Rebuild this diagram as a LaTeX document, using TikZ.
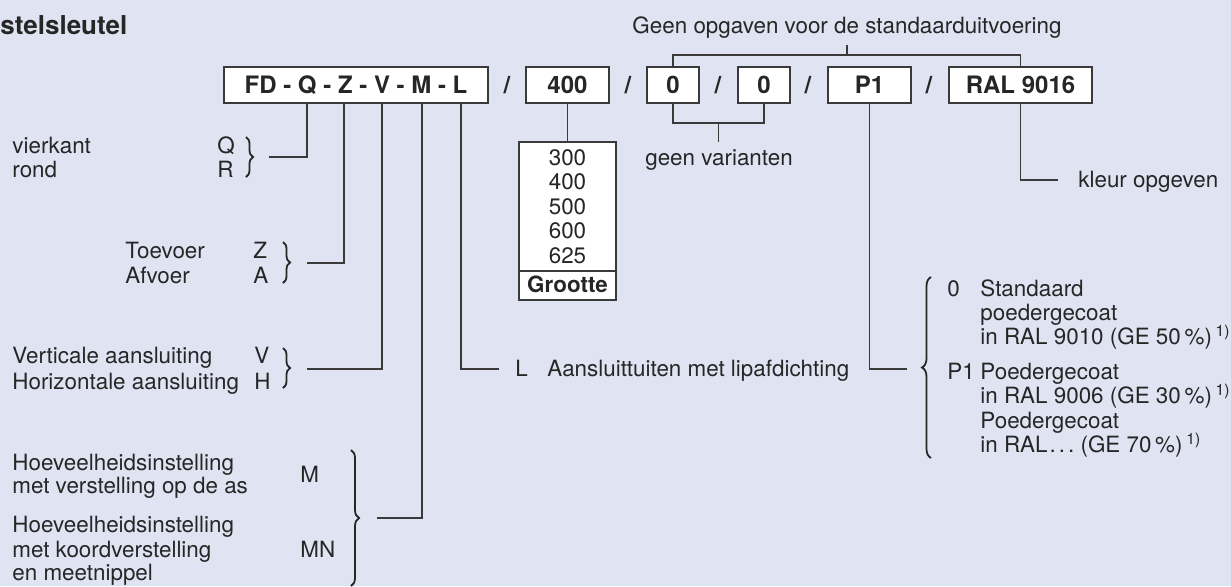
\documentclass[tikz,border=0pt]{standalone}
\usepackage{fontspec}
\setmainfont{TeX Gyre Heros}
\usetikzlibrary{positioning,decorations.pathreplacing}
\definecolor{bgblue}{HTML}{E0E4F2}
\definecolor{ink}{HTML}{262626}
\definecolor{wire}{HTML}{3A3A3A}
\tikzset{
  keybox/.style={draw=wire, fill=white, line width=0.7pt, minimum height=18pt, inner sep=0pt, text=ink, font=\fontsize{12}{14}\selectfont\bfseries},
  slash/.style={inner sep=0pt, text=ink, font=\fontsize{12}{14}\selectfont\bfseries},
  lbl/.style={anchor=base west, inner sep=0pt, text=ink, font=\fontsize{11.2}{13}\selectfont},
  wirel/.style={draw=wire, line width=0.6pt},
  curly/.style={draw=ink, line width=0.9pt, decorate, decoration={brace, amplitude=#1}},
  curly/.default=3pt,
}

\begin{document}
\begin{tikzpicture}[x=0.5pt, y=-0.5pt]
  \fill[bgblue] (0,0) rectangle (1231,586);
  \useasboundingbox (0,0) rectangle (1231,586);

  \node[lbl, font=\fontsize{13}{15}\selectfont\bfseries] (title) at (0,34) {stelsleutel};

  % code boxes
  \node[keybox, minimum width=132pt] (kfd) at (356,85) {FD - Q - Z - V - M - L};
  \node[keybox, minimum width=41.5pt] (ksize) at (567.5,85) {400};
  \node[keybox, minimum width=26pt] (kvar1) at (673,85) {0};
  \node[keybox, minimum width=26pt] (kvar2) at (764,85) {0};
  \node[keybox, minimum width=41.5pt] (kcoat) at (869.5,85) {P1};
  \node[keybox, minimum width=71.5pt] (kral) at (1020.5,85) {RAL 9016};
  \foreach \x [count=\i] in {507,628,718,808,929}
    \node[slash] (sl\i) at (\x,85) {/};

  % standard version bracket
  \node[lbl, anchor=base] (std) at (847,33) {Geen opgaven voor de standaarduitvoering};
  \coordinate (stdmid) at (847,55);
  \coordinate (stdtop) at (847,45);
  \draw[wirel] (kvar1.north) |- (stdmid) -| (kral.north);
  \draw[wirel] (stdmid) -- (stdtop);

  % variants
  \coordinate (varmid) at (718.5,123);
  \coordinate (varend) at (718.5,142);
  \draw[wirel] (kvar1.south) |- (varmid) -| (kvar2.south);
  \draw[wirel] (varmid) -- (varend);
  \node[lbl, anchor=base] (novar) at (719,165) {geen varianten};

  % sizes
  \node[draw=wire, fill=white, line width=0.7pt, minimum width=48.5pt, minimum height=79pt, inner sep=0pt] (sizes) at (567.5,221) {};
  \draw[wirel] (ksize.south) -- (sizes.north);
  \foreach \v [count=\i] in {300,400,500,600,625}
    \node[lbl, anchor=base] (s\v) at (567.5,140.5+24.5*\i) {\v};
  \draw[draw=wire, line width=1.4pt] (519,271) -- (616,271);
  \node[lbl, anchor=base, font=\fontsize{11.2}{13}\selectfont\bfseries] (grootte) at (567.5,292) {Grootte};

  % drops from the type code
  \foreach \n/\x in {Q/307, Z/344, V/382, M/422, L/461}
    \coordinate (d\n) at (\x,103);
  \coordinate (jQ) at (269,157);
  \coordinate (jZ) at (307,263);
  \coordinate (jV) at (307,369);
  \coordinate (jM) at (377,518);
  \coordinate (jL) at (499,369);
  \coordinate (jP) at (907,369);
  \coordinate (jR) at (1058,180);
  \draw[wirel] (dQ) |- (jQ);
  \draw[wirel] (dZ) |- (jZ);
  \draw[wirel] (dV) |- (jV);
  \draw[wirel] (dM) |- (jM);
  \draw[wirel] (dL) |- (jL);
  \draw[wirel] (kcoat.south) |- (jP);
  \draw[wirel] (kral.south) |- (jR);

  % braces
  \draw[curly=3.5pt] (246,137) -- (246,177);
  \draw[curly=3.5pt] (283,242) -- (283,283);
  \draw[curly=3.5pt] (283,348) -- (283,388);
  \draw[curly=4pt] (351,450) -- (351,586);
  \draw[curly=4.5pt] (931,458) -- (931,277);

  % shape
  \node[lbl] (vierkant) at (12,153) {vierkant};
  \node[lbl] (rond) at (12,177) {rond};
  \node[lbl] (optQ) at (217,153) {Q};
  \node[lbl] (optR) at (217,177) {R};

  % direction
  \node[lbl] (toevoer) at (125,258) {Toevoer};
  \node[lbl] (afvoer) at (125,283) {Afvoer};
  \node[lbl] (optZ) at (253,258) {Z};
  \node[lbl] (optA) at (253,283) {A};

  % connection
  \node[lbl] (vert) at (12,363) {Verticale aansluiting};
  \node[lbl] (hor) at (12,389) {Horizontale aansluiting};
  \node[lbl] (optV) at (254,363) {V};
  \node[lbl] (optH) at (254,389) {H};

  % volume setting
  \node[lbl] (m1) at (12,470) {Hoeveelheidsinstelling};
  \node[lbl] (m2) at (12,493) {met verstelling op de as};
  \node[lbl] (mn1) at (12,532) {Hoeveelheidsinstelling};
  \node[lbl] (mn2) at (12,557) {met koordverstelling};
  \node[lbl] (mn3) at (12,580) {en meetnippel};
  \node[lbl] (optM) at (300,482) {M};
  \node[lbl] (optMN) at (300,557) {MN};

  % lip seal
  \node[lbl] (optL) at (515,376) {L};
  \node[lbl] (lip) at (547,376) {Aansluittuiten met lipafdichting};

  % coating
  \node[lbl] (opt0) at (947,296) {0};
  \node[lbl] (std1) at (980,296) {Standaard};
  \node[lbl] (std2) at (980,320) {poedergecoat};
  \node[lbl] (std3) at (980,344) {in RAL 9010 (GE 50\,\%)\,\textsuperscript{1)}};
  \node[lbl] (optP) at (947,379) {P1};
  \node[lbl] (pc1) at (980,379) {Poedergecoat};
  \node[lbl] (pc2) at (980,403) {in RAL 9006 (GE 30\,\%)\,\textsuperscript{1)}};
  \node[lbl] (pc3) at (980,428) {Poedergecoat};
  \node[lbl] (pc4) at (980,452) {in RAL\kern1pt.\kern1.5pt.\kern1.5pt.\ (GE 70\,\%)\,\textsuperscript{1)}};

  % colour
  \node[lbl] (kleur) at (1078,187) {kleur opgeven};
\end{tikzpicture}
\end{document}
